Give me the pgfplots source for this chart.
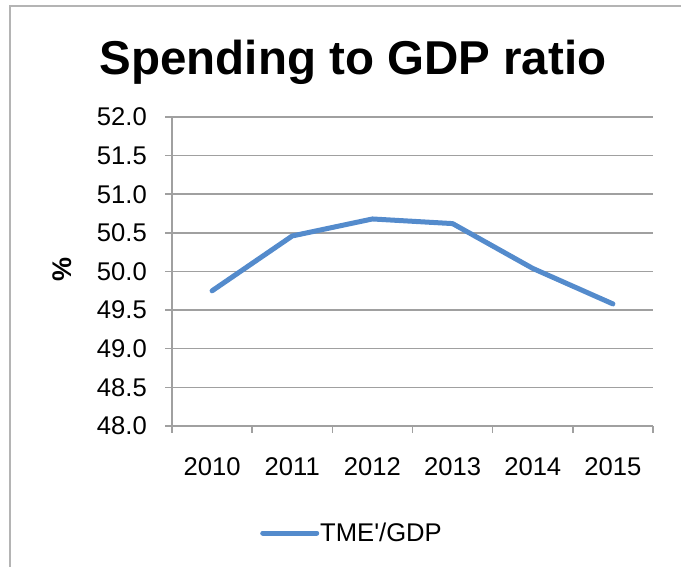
\documentclass[border=0pt]{standalone}
\usepackage{fontspec}
\setmainfont{Liberation Sans}
\usepackage{pgfplots}
\pgfplotsset{compat=1.18}
\definecolor{serblue}{RGB}{84,139,204}
\definecolor{axgray}{RGB}{160,160,160}
\definecolor{framegray}{RGB}{180,180,180}
\begin{document}
\begin{tikzpicture}[x=1bp,y=1bp]
\path[use as bounding box] (0,0) rectangle (681,567);
\draw[framegray, line width=2bp] (10,-2) -- (10,561) -- (683,561);
\node[anchor=base, inner sep=0pt, font=\fontsize{47.5bp}{56bp}\selectfont\bfseries] at (353,492.5) {Spending to GDP ratio};
\begin{axis}[
  at={(172bp,141bp)}, anchor=south west,
  scale only axis, width=481bp, height=309bp,
  xmin=-0.5, xmax=5.5, ymin=48, ymax=52,
  axis lines=left, axis line style={-, draw=axgray, line width=1.5bp},
  tick align=outside, major tick length=7bp,
  tick style={draw=axgray, line width=1.5bp},
  xtick={-0.5,0.5,1.5,2.5,3.5,4.5,5.5},
  xticklabels={2010,2011,2012,2013,2014,2015,{}},
  xticklabel style={xshift=40.08bp, anchor=north, inner sep=0pt, yshift=-24bp},
  ytick={48,48.5,...,52},
  yticklabel style={anchor=east, inner sep=0pt, xshift=-18bp},
  /pgf/number format/assume math mode=true,
  yticklabel={\pgfmathprintnumber[fixed,fixed zerofill,precision=1]{\tick}},
  ticklabel style={font=\fontsize{25.6bp}{30bp}\selectfont},
  ymajorgrids, grid style={draw=axgray, line width=1.5bp},
  ylabel={\textbf{\%}},
  ylabel style={at={(axis description cs:-0.2287,0.505)}, anchor=center, font=\fontsize{27bp}{30bp}\selectfont},
  legend style={draw=none, fill=none, at={(axis description cs:0.183,-0.3463)}, anchor=west, inner sep=0pt, nodes={inner sep=1bp}, font=\fontsize{25.6bp}{30bp}\selectfont},
  legend image code/.code={\draw[#1, line cap=round] (0bp,0bp) -- (54bp,0bp);},
  clip=false,
]
\addplot[serblue, line width=5bp, line join=round, line cap=round] coordinates {
  (0,49.75) (1,50.46) (2,50.68) (3,50.62) (4,50.04) (5,49.58)
};
\addlegendentry{TME\textquotesingle/GDP}
\end{axis}
\end{tikzpicture}
\end{document}
